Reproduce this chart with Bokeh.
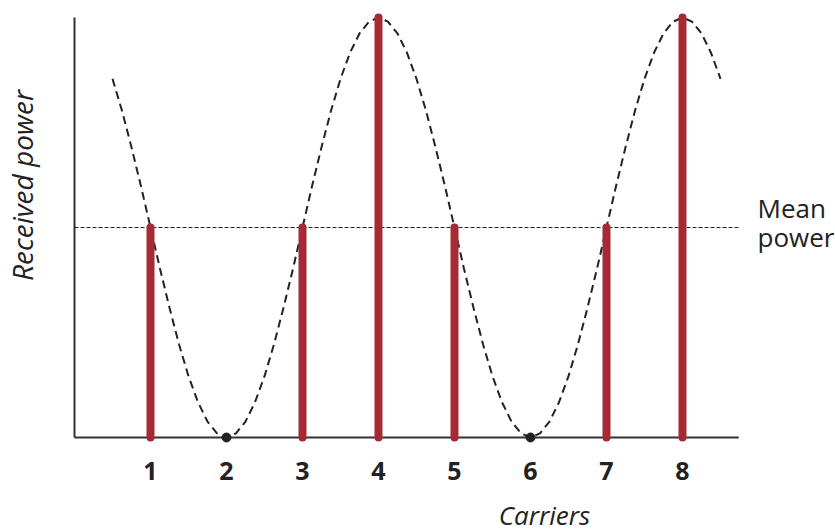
import math
from bokeh.plotting import figure
from bokeh.models import Range1d, Label
from bokeh.embed import file_html
from bokeh.resources import INLINE

# ---- data ----
carriers = [1, 2, 3, 4, 5, 6, 7, 8]
received = [0.5, 0.0, 0.5, 1.0, 0.5, 0.0, 0.5, 1.0]
tick_labels = ["1", "2", "3", "4", "5", "6", "7", "8"]
mean_power = 0.5
axis_x_end = 8.74
axis_y_end = 1.0

curve_x = [0.5, 0.625, 0.75, 0.875, 1.0, 1.125, 1.25, 1.375, 1.5, 1.625, 1.75, 1.875,
           2.0, 2.125, 2.25, 2.375, 2.5, 2.625, 2.75, 2.875, 3.0, 3.125, 3.25, 3.375,
           3.5, 3.625, 3.75, 3.875, 4.0, 4.125, 4.25, 4.375, 4.5, 4.625, 4.75, 4.875,
           5.0, 5.125, 5.25, 5.375, 5.5, 5.625, 5.75, 5.875, 6.0, 6.125, 6.25, 6.375,
           6.5, 6.625, 6.75, 6.875, 7.0, 7.125, 7.25, 7.375, 7.5, 7.625, 7.75, 7.875,
           8.0, 8.125, 8.25, 8.375, 8.5]
curve_y = [0.854, 0.778, 0.691, 0.598, 0.5, 0.402, 0.309, 0.222, 0.146, 0.084, 0.038, 0.010,
           0.0, 0.010, 0.038, 0.084, 0.146, 0.222, 0.309, 0.402, 0.5, 0.598, 0.691, 0.778,
           0.854, 0.916, 0.962, 0.990, 1.0, 0.990, 0.962, 0.916, 0.854, 0.778, 0.691, 0.598,
           0.5, 0.402, 0.309, 0.222, 0.146, 0.084, 0.038, 0.010, 0.0, 0.010, 0.038, 0.084,
           0.146, 0.222, 0.309, 0.402, 0.5, 0.598, 0.691, 0.778, 0.854, 0.916, 0.962, 0.990,
           1.0, 0.990, 0.962, 0.916, 0.854]

BAR = "#a52a35"
INK = "#222222"
FONT = "Open Sans"

# frame covers the whole canvas; axes are drawn in data space
p = figure(width=835, height=532, output_backend="svg", toolbar_location=None,
           x_range=Range1d(-0.9737, 10.0132), y_range=Range1d(-0.2262, 1.0405),
           x_axis_location=None, y_axis_location=None,
           min_border=0, min_border_left=0, min_border_right=0,
           min_border_top=0, min_border_bottom=0)
p.outline_line_color = None
p.grid.visible = False
p.background_fill_color = "white"
p.border_fill_color = "white"

# axis lines
p.segment(x0=[0], y0=[0], x1=[0], y1=[axis_y_end], line_color="#333333", line_width=2)
p.segment(x0=[0], y0=[0], x1=[axis_x_end], y1=[0], line_color="#333333", line_width=2)

# mean power line
p.segment(x0=[0], y0=[mean_power], x1=[axis_x_end], y1=[mean_power],
          line_color=INK, line_width=1, line_dash="4 2")

# dashed curve
p.line(curve_x, curve_y, line_color=INK, line_width=2, line_dash="8 5")

# bars
bx = [c for c, v in zip(carriers, received) if v > 0]
by = [v for v in received if v > 0]
p.segment(x0=bx, y0=[0] * len(bx), x1=bx, y1=by, line_color=BAR, line_width=8, line_cap="round")

# zero points
zx = [c for c, v in zip(carriers, received) if v == 0]
zy = [v for v in received if v == 0]
p.scatter(zx, zy, size=9, color=INK)

def lab(text, x, y, size, **kw):
    p.add_layout(Label(x=x, y=y, text=text, text_font=FONT, text_font_size=size,
                       text_color=INK, **kw))

# tick labels
for c, t in zip(carriers, tick_labels):
    lab(t, c, -0.0786, "25px", text_align="center", text_baseline="alphabetic",
        text_font_style="bold")

lab("Received power", -0.697, 0.6, "28px", angle=math.pi / 2, text_align="center",
    text_baseline="alphabetic", text_font_style="italic")
lab("Carriers", 6.184, -0.1835, "26px", text_align="center", text_baseline="alphabetic",
    text_font_style="italic")
lab("Mean", 8.987, 0.546, "26px", text_align="left", text_baseline="alphabetic")
lab("power", 8.987, 0.477, "26px", text_align="left", text_baseline="alphabetic")

open("out.html", "w").write(file_html(p, INLINE))
